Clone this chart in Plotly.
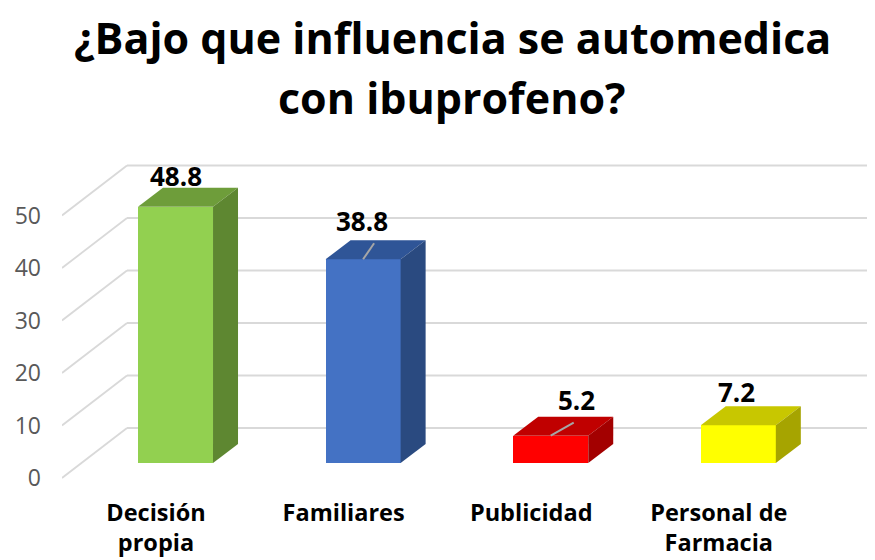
import plotly.graph_objects as go

# ---------------- data ----------------
categories = ["Decisión<br>propia", "Familiares", "Publicidad", "Personal de<br>Farmacia"]
values = [48.8, 38.8, 5.2, 7.2]
y_ticks = [0, 10, 20, 30, 40, 50]
title_lines = ["¿Bajo que influencia se automedica", "con ibuprofeno?"]

# ---------------- style ----------------
front_colors = ["#92D050", "#4472C4", "#FF0000", "#FFFF00"]
top_colors = ["#6E9D3A", "#2F5597", "#C00000", "#C8C700"]
side_colors = ["#5E8731", "#2A4A80", "#A30000", "#A6A400"]
FONT = "Open Sans"
W, H = 875, 560
OFF = 8  # page body margin
# target plot-area box in screenshot pixels
PL, PT, PB = 62, 140, 480
PX_PER_X = 187.6     # px per category
PX_PER_Y = 5.25      # px per unit value
CAT0_PX = 175.5      # centre of first bar (screen px)
BASE_PY = 463        # bar bottom (screen px)

ML, MT = PL - OFF, PT - OFF
MB = H - (PB - OFF)
MR = 0
PW, PH = W - ML - MR, H - MT - MB
X_RANGE = [(PL - CAT0_PX) / PX_PER_X, (PL - CAT0_PX + PW) / PX_PER_X]
Y_RANGE = [(BASE_PY - PB) / PX_PER_Y, (BASE_PY - PT) / PX_PER_Y]
BAR_W = 0.4


def ux(p):  # horizontal pixels -> x units
    return p / PX_PER_X


def uy(p):  # vertical pixels (upwards) -> y units
    return p / PX_PER_Y


def paper_x(px):  # screen px -> paper
    return (px - OFF - ML) / PW


def paper_y(py):
    return (H - MB - (py - OFF)) / PH


# oblique depth offsets (pixels -> data units)
FX, FY = ux(-19.5), uy(-15)     # front edge of floor relative to bar face
BX, BY = ux(45.5), uy(35)       # back wall relative to bar face
DX, DY = ux(25), uy(19)         # bar depth

label_shift = [(0, 12), (-1.5, 19), (25.5, 17), (-1.5, 14)]
leaders = [None, (11, 16), (23, 13), None]

fig = go.Figure()

# gridlines (floor diagonals + back wall), below everything
shapes = []
x_left = X_RANGE[0]
for v in y_ticks:
    shapes.append(dict(type="line", layer="below", xref="x", yref="y",
                       x0=x_left, y0=v + FY, x1=x_left + (BX - FX), y1=v + BY,
                       line=dict(color="#D9D9D9", width=1.8)))
    shapes.append(dict(type="line", layer="below", xref="x", yref="y",
                       x0=x_left + (BX - FX), y0=v + BY, x1=X_RANGE[1], y1=v + BY,
                       line=dict(color="#D9D9D9", width=1.8)))

xs = list(range(len(values)))

# front faces
fig.add_trace(go.Bar(x=xs, y=values, width=BAR_W,
                     marker=dict(color=front_colors, line=dict(width=0)),
                     hoverinfo="skip", showlegend=False))

# top and side faces
for i, v in enumerate(values):
    l, r = i - BAR_W / 2, i + BAR_W / 2
    fig.add_trace(go.Scatter(
        x=[l, r, r + DX, l + DX, l], y=[v, v, v + DY, v + DY, v],
        fill="toself", fillcolor=top_colors[i], mode="lines",
        line=dict(width=0, color=top_colors[i]), hoverinfo="skip", showlegend=False))
    fig.add_trace(go.Scatter(
        x=[r, r + DX, r + DX, r, r], y=[0, DY, v + DY, v, 0],
        fill="toself", fillcolor=side_colors[i], mode="lines",
        line=dict(width=0, color=side_colors[i]), hoverinfo="skip", showlegend=False))

# leader lines
for i, v in enumerate(values):
    if leaders[i]:
        dxp, dyp = leaders[i]
        fig.add_trace(go.Scatter(x=[i, i + ux(dxp)], y=[v, v + uy(dyp)], mode="lines",
                                 line=dict(color="#A6A6A6", width=2),
                                 hoverinfo="skip", showlegend=False))

annotations = []
for i, v in enumerate(values):
    sx, sy = label_shift[i]
    annotations.append(dict(x=i, y=v + DY, xref="x", yref="y", text=f"<b>{v}</b>",
                            showarrow=False, xanchor="center", yanchor="middle",
                            xshift=sx, yshift=sy,
                            font=dict(family=FONT, size=26, color="#000000")))

title_y = [38, 97]
for k, t in enumerate(title_lines):
    annotations.append(dict(x=paper_x(452), y=paper_y(title_y[k]), xref="paper", yref="paper",
                            text=f"<b>{t}</b>", showarrow=False, borderpad=0,
                            xanchor="center", yanchor="middle",
                            font=dict(family=FONT, size=43, color="#000000")))

fig.update_layout(
    width=W, height=H,
    margin=dict(l=ML, r=MR, t=MT, b=MB),
    paper_bgcolor="white", plot_bgcolor="white",
    shapes=shapes, annotations=annotations,
    bargap=0,
    xaxis=dict(range=X_RANGE, showgrid=False, zeroline=False, showline=False,
               automargin=False,
               tickmode="array", tickvals=[i + FX for i in xs],
               ticktext=[f"<b>{c}</b>" for c in categories],
               ticks="", ticklabelstandoff=16,
               tickfont=dict(family=FONT, size=23.5, color="#000000")),
    yaxis=dict(range=Y_RANGE, showgrid=False, zeroline=False, showline=False,
               automargin=False,
               tickmode="array", tickvals=[v + FY for v in y_ticks],
               ticktext=[str(v) for v in y_ticks],
               ticks="", ticklabelstandoff=20,
               tickfont=dict(family=FONT, size=23, color="#595959")),
)

fig.write_html("out.html")
